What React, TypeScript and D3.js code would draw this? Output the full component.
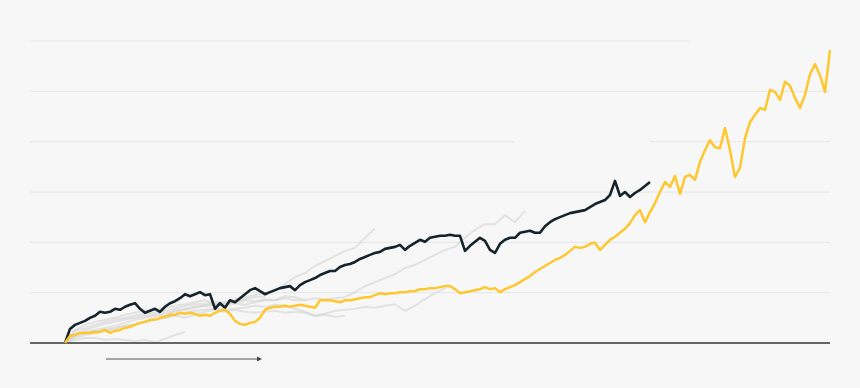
import React from "react";
import * as d3 from "d3";

// x unit: months since the start of each run; y unit: % gain
const MONTH_STEP = 1;
const GRAY_STEP = 2;

const yellowValues = [
  0, 14, 16, 20, 20, 20, 22, 22, 26, 20, 24, 26, 30, 32, 36, 40, 42, 46, 46, 50,
  52, 56, 56, 60, 58, 60, 58, 54, 56, 54, 60, 64, 66, 58, 44, 38, 36, 40, 42, 50,
  66, 70, 72, 72, 74, 72, 74, 76, 74, 72, 70, 85, 85, 85, 83, 81, 85, 85, 87, 89,
  91, 91, 95, 99, 97, 99, 99, 101, 101, 103, 103, 107, 107, 109, 109, 111, 113, 113, 107, 99,
  101, 103, 105, 107, 111, 107, 109, 101, 107, 111, 115, 121, 127, 133, 141, 147, 153, 159, 165, 169,
  175, 183, 191, 189, 191, 197, 199, 185, 195, 205, 211, 219, 227, 238, 254, 264, 240, 260, 278, 300,
  320, 310, 332, 296, 330, 334, 324, 360, 383, 403, 389, 387, 427, 383, 330, 348, 407, 439, 453, 467,
  463, 503, 499, 483, 519, 511, 487, 467, 493, 534, 554, 532, 499, 582,
];

const blackValues = [
  0, 28, 36, 40, 44, 50, 54, 62, 60, 62, 68, 66, 72, 76, 79, 68, 60, 64, 68, 62,
  72, 79, 83, 89, 97, 93, 97, 101, 95, 97, 68, 79, 70, 85, 81, 89, 97, 105, 109, 103,
  97, 101, 105, 109, 111, 113, 105, 115, 121, 125, 129, 135, 139, 143, 143, 151, 155, 157, 161, 167,
  171, 175, 179, 181, 187, 189, 191, 195, 185, 193, 199, 205, 201, 209, 211, 213, 213, 215, 213, 213,
  183, 193, 201, 209, 203, 185, 179, 197, 205, 209, 209, 219, 221, 223, 219, 219, 232, 240, 246, 250,
  254, 258, 260, 262, 264, 270, 276, 280, 284, 294, 322, 292, 300, 290, 298, 304, 312, 320,
];

const grayRun1 = [0, 24, 30, 36, 42, 46, 50, 54, 58, 60, 64, 68, 74, 77, 77, 81, 81, 87, 91, 95, 99, 103, 117, 131, 139, 153, 163, 173, 183, 189, 209, 227];
const grayRun2 = [0, 14, 22, 26, 30, 34, 40, 46, 50, 54, 56, 62, 66, 70, 74, 76, 74, 79, 85, 83, 87, 85, 89, 85, 85, 89, 87, 89, 91, 101, 113, 121, 129, 137, 149, 155, 165, 175, 185, 191, 209, 225, 236, 236, 254, 240, 262];
const grayRun3 = [0, 10, 16, 20, 24, 28, 34, 38, 42, 46, 50, 56, 60, 64, 66, 68, 66, 68, 70, 74, 72, 76, 74, 68, 62, 54, 58, 64, 66, 68, 72, 70, 74, 77, 64, 74, 87, 99, 109];
const grayRun4 = [0, 6, 10, 10, 6, 8, 6, 4, 6, 2, 8, 16, 22];
const grayRun5 = [0, 18, 26, 32, 38, 42, 46, 50, 54, 56, 60, 64, 68, 72, 74, 76, 79, 79, 76, 81, 85, 85, 93, 91, 85];
const grayRun6 = [0, 14, 20, 24, 26, 30, 34, 36, 42, 48, 50, 54, 50, 56, 62, 66, 62, 66, 62, 60, 62, 64, 60, 62, 60, 54, 56, 52, 54];
const grayRun7 = [0, 26, 36, 42, 46, 50, 56, 60, 64, 66, 70, 74, 77, 81, 85, 76, 77, 83, 87, 91, 93];

const grayRuns = [grayRun1, grayRun2, grayRun3, grayRun4, grayRun5, grayRun6, grayRun7];

const gridValues = [100, 200, 300, 400, 500, 600];
// month ranges in which each gridline is hidden (room for labels)
const gridGaps: Record<number, [number, number][]> = {
  400: [[89.8, 117]],
  600: [[124.8, 200]],
};

const arrowMonths = [8.2, 39.4];

const W = 860;
const H = 388;
const M = { left: 30, right: 30, top: 41, bottom: 45 };

const x = d3.scaleLinear().domain([-7, 153]).range([M.left, W - M.right]);
const y = d3.scaleLinear().domain([0, 600]).range([H - M.bottom, M.top]);

function toPoints(values: number[], step: number): [number, number][] {
  return values.map((v, i) => [i * step, v]);
}

const line = d3
  .line<[number, number]>()
  .x((d) => x(d[0]))
  .y((d) => y(d[1]));

function gridSegments(v: number): [number, number][] {
  const [d0, d1] = x.domain();
  let segs: [number, number][] = [[d0, d1]];
  (gridGaps[v] || []).forEach(([g0, g1]) => {
    const next: [number, number][] = [];
    segs.forEach(([a, b]) => {
      if (g1 <= a || g0 >= b) next.push([a, b]);
      else {
        if (g0 > a) next.push([a, g0]);
        if (g1 < b) next.push([g1, b]);
      }
    });
    segs = next;
  });
  return segs;
}

export default function App() {
  const ay = H - 29;
  const ax0 = x(arrowMonths[0]);
  const ax1 = x(arrowMonths[1]);
  return (
    <svg
      width={W}
      height={H}
      style={{ position: "absolute", left: 0, top: 0, background: "#f7f7f7" }}
    >
      <rect width={W} height={H} fill="#f7f7f7" />
      {gridValues.map((v) =>
        gridSegments(v).map(([a, b], i) => (
          <line
            key={`${v}-${i}`}
            x1={x(a)}
            x2={x(b)}
            y1={y(v)}
            y2={y(v)}
            stroke="#e6e6e6"
            strokeWidth={1}
          />
        ))
      )}
      {grayRuns.map((r, i) => (
        <path
          key={i}
          d={line(toPoints(r, GRAY_STEP)) || ""}
          fill="none"
          stroke="#d2d2d2"
          strokeOpacity={0.55}
          strokeWidth={2}
          strokeLinejoin="round"
        />
      ))}
      <line
        x1={x.range()[0]}
        x2={x.range()[1]}
        y1={y(0)}
        y2={y(0)}
        stroke="#333"
        strokeWidth={1.4}
      />
      <path
        d={line(toPoints(blackValues, MONTH_STEP)) || ""}
        fill="none"
        stroke="#15232a"
        strokeWidth={2.6}
        strokeLinejoin="round"
      />
      <path
        d={line(toPoints(yellowValues, MONTH_STEP)) || ""}
        fill="none"
        stroke="#fec72e"
        strokeWidth={2.5}
        strokeLinejoin="round"
      />
      <line x1={ax0} x2={ax1 - 4} y1={ay} y2={ay} stroke="#555" strokeWidth={1.2} />
      <path
        d={`M${ax1 - 5},${ay - 2.6}L${ax1},${ay}L${ax1 - 5},${ay + 2.6}Z`}
        fill="#444"
      />
    </svg>
  );
}
